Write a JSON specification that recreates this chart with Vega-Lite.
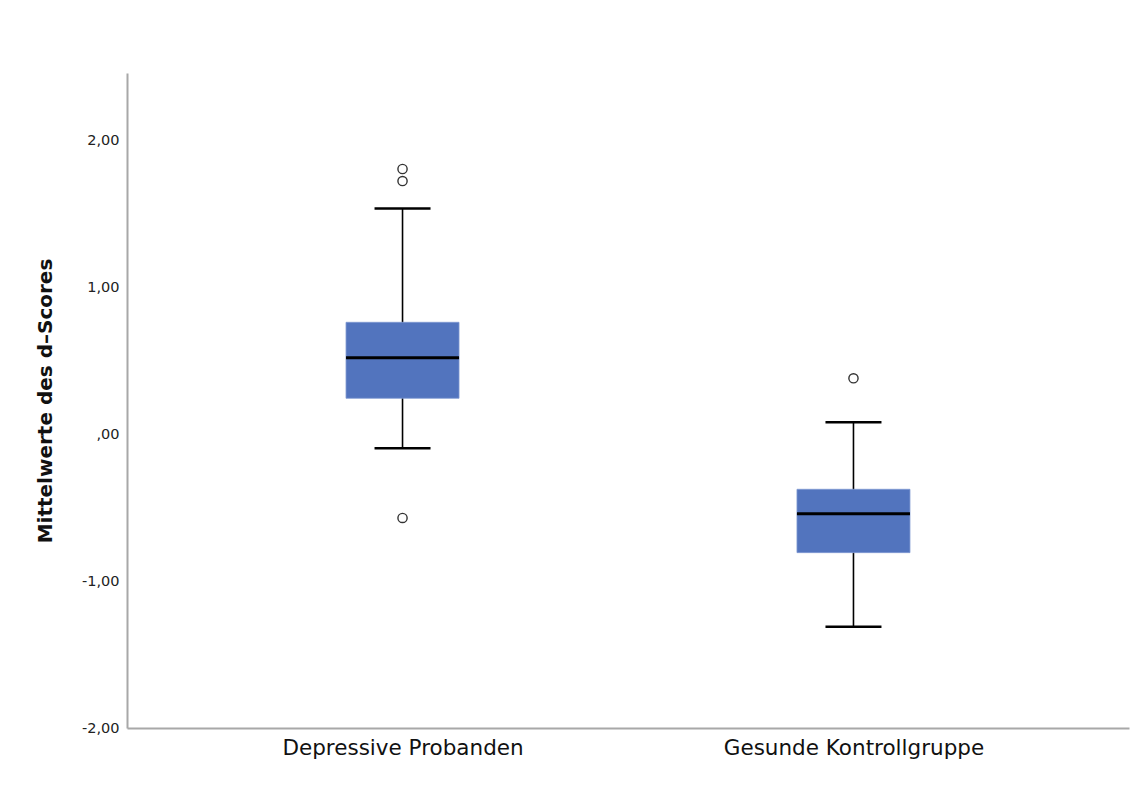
{
  "$schema": "https://vega.github.io/schema/vega-lite/v6.json",
  "autosize": {"type": "none"},
  "width": 1002,
  "height": 655,
  "padding": {"left": 127, "top": 73, "right": 13, "bottom": 65},
  "background": "white",
  "config": {"view": {"stroke": null}, "font": "DejaVu Sans"},
  "datasets": {
    "boxes": [
      {"gruppe": "Depressive Probanden", "lower": -0.097, "q1": 0.243, "median": 0.519, "q3": 0.760, "upper": 1.535},
      {"gruppe": "Gesunde Kontrollgruppe", "lower": -1.311, "q1": -0.807, "median": -0.542, "q3": -0.376, "upper": 0.080}
    ],
    "outliers": [
      {"gruppe": "Depressive Probanden", "wert": 1.803},
      {"gruppe": "Depressive Probanden", "wert": 1.721},
      {"gruppe": "Depressive Probanden", "wert": -0.571},
      {"gruppe": "Gesunde Kontrollgruppe", "wert": 0.379}
    ]
  },
  "encoding": {
    "x": {
      "field": "gruppe",
      "type": "nominal",
      "sort": ["Depressive Probanden", "Gesunde Kontrollgruppe"],
      "scale": {"type": "point", "padding": 0.611},
      "axis": {
        "title": null,
        "labelAngle": 0,
        "labelFont": "DejaVu Sans",
        "labelFontSize": 21.5,
        "labelLimit": 500,
        "labelColor": "#111",
        "labelPadding": 9,
        "ticks": false,
        "domainColor": "#a8a8a8",
        "domainWidth": 2
      }
    }
  },
  "layer": [
    {
      "data": {"name": "boxes"},
      "mark": {"type": "rule", "color": "black", "strokeWidth": 1.6, "opacity": 1},
      "encoding": {
        "y": {
          "field": "lower",
          "type": "quantitative",
          "scale": {"domain": [-2, 2.456], "nice": false, "zero": false},
          "axis": {
            "title": "Mittelwerte des d–Scores",
            "titleFont": "DejaVu Sans",
            "titleFontSize": 20,
            "titleFontWeight": "bold",
            "titleColor": "#111",
            "titlePadding": 26,
            "values": [-2, -1, 0, 1, 2],
            "labelExpr": "datum.value == 0 ? ',00' : (datum.value < 0 ? '-' : '') + abs(datum.value) + ',00'",
            "labelFont": "DejaVu Sans",
            "labelFontSize": 14.5,
            "labelColor": "#222",
            "labelPadding": 8,
            "ticks": false,
            "grid": false,
            "domainColor": "#a8a8a8",
            "domainWidth": 2
          }
        },
        "y2": {"field": "upper"}
      }
    },
    {
      "data": {"name": "boxes"},
      "mark": {"type": "tick", "color": "black", "size": 56, "thickness": 2.5, "opacity": 1},
      "encoding": {"y": {"field": "lower", "type": "quantitative"}}
    },
    {
      "data": {"name": "boxes"},
      "mark": {"type": "tick", "color": "black", "size": 56, "thickness": 2.5, "opacity": 1},
      "encoding": {"y": {"field": "upper", "type": "quantitative"}}
    },
    {
      "data": {"name": "boxes"},
      "mark": {"type": "bar", "color": "#5274be", "size": 113, "stroke": "#7f98d2", "strokeWidth": 0.8, "opacity": 1},
      "encoding": {
        "y": {"field": "q1", "type": "quantitative"},
        "y2": {"field": "q3"}
      }
    },
    {
      "data": {"name": "boxes"},
      "mark": {"type": "tick", "color": "black", "size": 113, "thickness": 3, "opacity": 1},
      "encoding": {"y": {"field": "median", "type": "quantitative"}}
    },
    {
      "data": {"name": "outliers"},
      "mark": {"type": "point", "shape": "circle", "filled": false, "size": 85, "stroke": "#333", "strokeWidth": 1.4, "opacity": 1},
      "encoding": {"y": {"field": "wert", "type": "quantitative"}}
    }
  ]
}
